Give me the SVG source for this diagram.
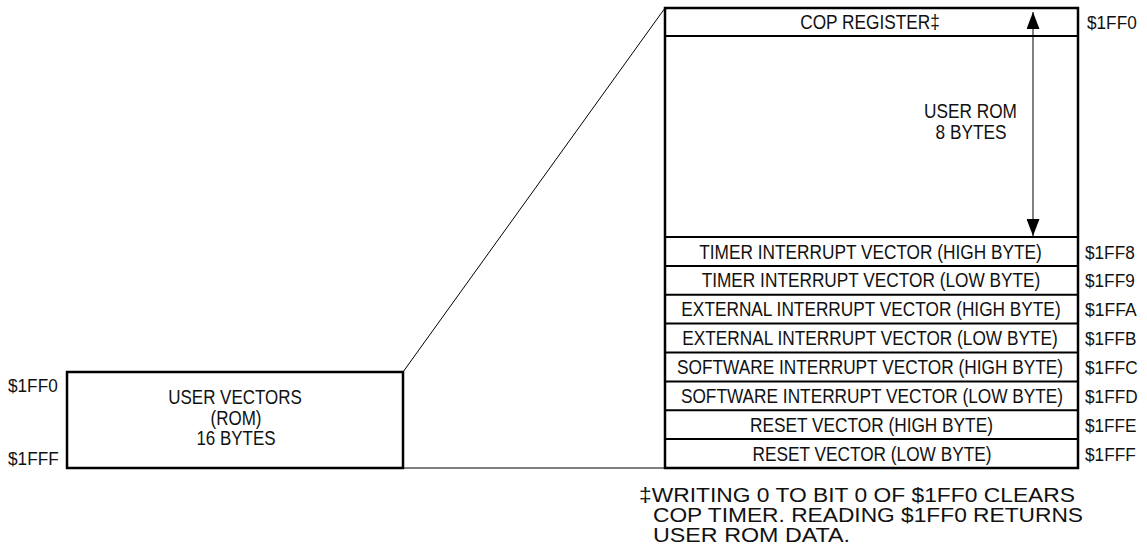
<svg xmlns="http://www.w3.org/2000/svg" width="1147" height="554" viewBox="0 0 1147 554">
<style>
  .t { font-family: "Liberation Sans", Arial, sans-serif; font-size: 19.5px; fill: #111; text-anchor: middle; }
  .a { font-family: "Liberation Sans", Arial, sans-serif; font-size: 18px; fill: #111; }
  .fn { font-family: "Liberation Sans", Arial, sans-serif; font-size: 20.5px; fill: #111; }
  .box { fill: #fff; stroke: #000; stroke-width: 2.5; }
  .div { stroke: #000; stroke-width: 2; }
  .thin { stroke: #000; stroke-width: 1; fill: none; }
</style>
<defs>
  <marker id="ah" viewBox="0 0 17 13" refX="17" refY="6.5" markerWidth="17" markerHeight="13" markerUnits="userSpaceOnUse" orient="auto-start-reverse">
    <path d="M0,0 L17,6.5 L0,13 Z" fill="#000"/>
  </marker>
</defs>
<rect width="1147" height="554" fill="#fff"/>

<g id="connectors">
  <line class="thin" x1="403" y1="372" x2="665" y2="8"/>
  <line class="thin" x1="403" y1="468" x2="665" y2="468"/>
</g>

<g id="user-vectors">
  <rect class="box" x="67" y="372" width="336" height="96"/>
  <text class="t" transform="translate(235,404) scale(0.87,1)">USER VECTORS</text>
  <text class="t" transform="translate(236,425) scale(0.87,1)">(ROM)</text>
  <text class="t" transform="translate(236,445) scale(0.87,1)">16 BYTES</text>
  <text class="a" x="8" y="392" textLength="49.7" lengthAdjust="spacingAndGlyphs">$1FF0</text>
  <text class="a" x="8" y="465" textLength="50.7" lengthAdjust="spacingAndGlyphs">$1FFF</text>
</g>

<g id="memory-map">
  <rect class="box" x="665" y="8" width="413" height="460"/>
  <line class="div" x1="665" y1="36" x2="1078" y2="36"/>
  <line class="div" x1="665" y1="237" x2="1078" y2="237"/>
  <line class="div" x1="665" y1="265.9" x2="1078" y2="265.9"/>
  <line class="div" x1="665" y1="294.75" x2="1078" y2="294.75"/>
  <line class="div" x1="665" y1="323.6" x2="1078" y2="323.6"/>
  <line class="div" x1="665" y1="352.5" x2="1078" y2="352.5"/>
  <line class="div" x1="665" y1="381.4" x2="1078" y2="381.4"/>
  <line class="div" x1="665" y1="410.25" x2="1078" y2="410.25"/>
  <line class="div" x1="665" y1="439.1" x2="1078" y2="439.1"/>
</g>

<g id="cop-register">
  <text class="t" transform="translate(870,29.3) scale(0.885,1)">COP REGISTER‡</text>
  <text class="a" x="1087" y="29.3" textLength="49.7" lengthAdjust="spacingAndGlyphs">$1FF0</text>
</g>

<g id="user-rom">
  <line class="thin" x1="1033" y1="12" x2="1033" y2="236" marker-start="url(#ah)" marker-end="url(#ah)"/>
  <text class="t" transform="translate(970.5,117.5) scale(0.885,1)">USER ROM</text>
  <text class="t" transform="translate(971,139) scale(0.885,1)">8 BYTES</text>
</g>

<g id="timer-high">
  <text class="t" transform="translate(870.5,258.5) scale(0.885,1)">TIMER INTERRUPT VECTOR (HIGH BYTE)</text>
  <text class="a" x="1085" y="258.5" textLength="49.7" lengthAdjust="spacingAndGlyphs">$1FF8</text>
</g>
<g id="timer-low">
  <text class="t" transform="translate(871,287.4) scale(0.885,1)">TIMER INTERRUPT VECTOR (LOW BYTE)</text>
  <text class="a" x="1085" y="287.4" textLength="49.7" lengthAdjust="spacingAndGlyphs">$1FF9</text>
</g>
<g id="ext-high">
  <text class="t" transform="translate(871,316.3) scale(0.885,1)">EXTERNAL INTERRUPT VECTOR (HIGH BYTE)</text>
  <text class="a" x="1085" y="316.3" textLength="51.6" lengthAdjust="spacingAndGlyphs">$1FFA</text>
</g>
<g id="ext-low">
  <text class="t" transform="translate(870,345.1) scale(0.885,1)">EXTERNAL INTERRUPT VECTOR (LOW BYTE)</text>
  <text class="a" x="1085" y="345.1" textLength="51.6" lengthAdjust="spacingAndGlyphs">$1FFB</text>
</g>
<g id="sw-high">
  <text class="t" transform="translate(870,374) scale(0.885,1)">SOFTWARE INTERRUPT VECTOR (HIGH BYTE)</text>
  <text class="a" x="1085" y="374" textLength="52.6" lengthAdjust="spacingAndGlyphs">$1FFC</text>
</g>
<g id="sw-low">
  <text class="t" transform="translate(872,402.9) scale(0.885,1)">SOFTWARE INTERRUPT VECTOR (LOW BYTE)</text>
  <text class="a" x="1085" y="402.9" textLength="52.6" lengthAdjust="spacingAndGlyphs">$1FFD</text>
</g>
<g id="reset-high">
  <text class="t" transform="translate(871.5,431.8) scale(0.885,1)">RESET VECTOR (HIGH BYTE)</text>
  <text class="a" x="1085" y="431.8" textLength="51.6" lengthAdjust="spacingAndGlyphs">$1FFE</text>
</g>
<g id="reset-low">
  <text class="t" transform="translate(872,460.6) scale(0.885,1)">RESET VECTOR (LOW BYTE)</text>
  <text class="a" x="1085" y="460.6" textLength="50.7" lengthAdjust="spacingAndGlyphs">$1FFF</text>
</g>

<g id="footnote">
  <text class="fn" x="639" y="501.7" textLength="436" lengthAdjust="spacingAndGlyphs">‡WRITING 0 TO BIT 0 OF $1FF0 CLEARS</text>
  <text class="fn" x="653" y="521.7" textLength="430" lengthAdjust="spacingAndGlyphs">COP TIMER. READING $1FF0 RETURNS</text>
  <text class="fn" x="653" y="541.7" textLength="197" lengthAdjust="spacingAndGlyphs">USER ROM DATA.</text>
</g>
</svg>
